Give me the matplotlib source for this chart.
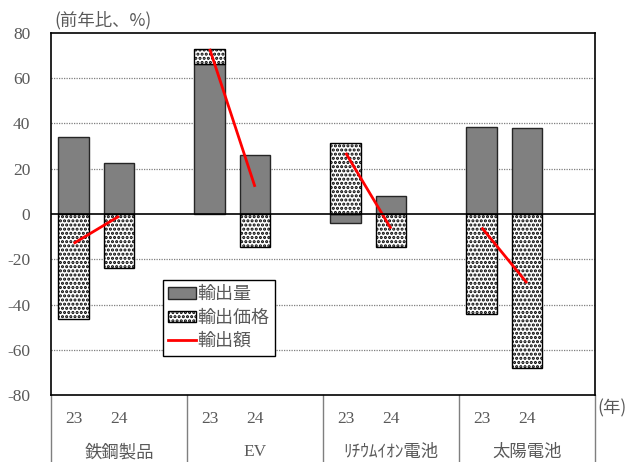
import matplotlib
matplotlib.use("Agg")
import matplotlib.pyplot as plt
import matplotlib.patches as mpatches
from matplotlib.lines import Line2D
import numpy as np

# Données (前年比、%)
categories = ['鉄鋼製品', 'EV', 'ﾘﾁｳﾑｲｵﾝ電池', '太陽電池']
years = ['23', '24']
volume = [34, 22.5, 66.5, 26, -4, 8, 38.5, 38]        # 輸出量
price = [-46.5, -24, 6.5, -14.5, 31.5, -14.5, -44, -68]  # 輸出価格
value = [-13, -1, 73, 12, 27, -6.5, -6, -30.5]         # 輸出額
yticks = [-80, -60, -40, -20, 0, 20, 40, 60, 80]

jp_font = ['Noto Sans CJK JP', 'DejaVu Sans']
num_font = ['Liberation Serif', 'DejaVu Serif']
text_color = '#595959'
plt.rcParams['hatch.linewidth'] = 1.5

fig = plt.figure(figsize=(6.28, 4.62), dpi=100)
ax = fig.add_axes([0.0812, 0.145, 0.8663, 0.7836])

# positions : 3 cases par groupe (23, 24, vide)
x_pos = []
for g in range(len(categories)):
    x_pos.append(3 * g)
    x_pos.append(3 * g + 1)
x_pos = np.array(x_pos)

bar_width = 0.68

# Bases des barres empilées (positifs sur positifs, négatifs sur négatifs)
price_bottom = []
for v, p in zip(volume, price):
    if (v >= 0 and p >= 0) or (v < 0 and p < 0):
        price_bottom.append(v)
    else:
        price_bottom.append(0)

ax.bar(x_pos, volume, width=bar_width, color='#808080', edgecolor='#262626',
       linewidth=1, zorder=3)
ax.bar(x_pos, price, width=bar_width, bottom=price_bottom, color='white',
       edgecolor='black', hatch='....', linewidth=1, zorder=3)

# Lignes rouges du 輸出額, une par groupe
for g in range(len(categories)):
    ax.plot(x_pos[2 * g:2 * g + 2], value[2 * g:2 * g + 2], color='red',
            linewidth=2, zorder=4, solid_capstyle='butt')

ax.set_xlim(-0.5, 11.5)
ax.set_ylim(-80, 80)
ax.set_yticks(yticks)
ax.set_yticklabels([str(t) for t in yticks], family=num_font, fontsize=12.5,
                   color=text_color)
ax.tick_params(axis='y', length=0, pad=15)
ax.set_xticks([])

# Quadrillage pointillé
for t in yticks:
    if t in (-80, 0, 80):
        continue
    ax.axhline(t, color='#7f7f7f', linestyle=(0, (1, 1)), linewidth=0.9, zorder=1)
ax.axhline(0, color='black', linewidth=1.2, zorder=5)

for s in ax.spines.values():
    s.set_color('black')
    s.set_linewidth(1.2)

# Séparateurs verticaux sous l'axe
trans = matplotlib.transforms.blended_transform_factory(ax.transData, ax.transAxes)
for xs in [-0.5, 2.5, 5.5, 8.5, 11.5]:
    ax.plot([xs, xs], [0, -0.19], color='#7f7f7f', linewidth=1,
            transform=trans, clip_on=False)

# Étiquettes des années et des catégories
for i, xp in enumerate(x_pos):
    ax.text(xp, -0.066, years[i % 2], transform=trans, ha='center', va='center',
            family=num_font, fontsize=12.5, color=text_color)
for g, cat in enumerate(categories):
    fam = num_font if cat == 'EV' else jp_font
    ax.text(3 * g + 1, -0.158, cat, transform=trans, ha='center', va='center',
            family=fam, fontsize=12.5, color=text_color)

fig.text(0.086, 0.957, '(前年比、%)', family=jp_font, fontsize=12.5,
         color=text_color, ha='left', va='center')
fig.text(0.952, 0.117, '(年)', family=jp_font, fontsize=12.5,
         color=text_color, ha='left', va='center')

# Légende
handles = [
    mpatches.Patch(facecolor='#808080', edgecolor='#262626', label='輸出量'),
    mpatches.Patch(facecolor='white', edgecolor='black', hatch='....', label='輸出価格'),
    Line2D([0], [0], color='red', linewidth=2, label='輸出額'),
]
leg = ax.legend(handles=handles, loc='upper left', bbox_to_anchor=(0.206, 0.318),
                prop={'family': jp_font, 'size': 13}, frameon=True,
                fancybox=False, edgecolor='black', framealpha=1,
                handlelength=1.5, handleheight=0.6, handletextpad=0.1,
                labelspacing=0.3, borderpad=0.3, borderaxespad=0)
leg.get_frame().set_linewidth(1)
for t in leg.get_texts():
    t.set_color(text_color)
leg.set_zorder(6)

fig.savefig('out.png', dpi=100)
